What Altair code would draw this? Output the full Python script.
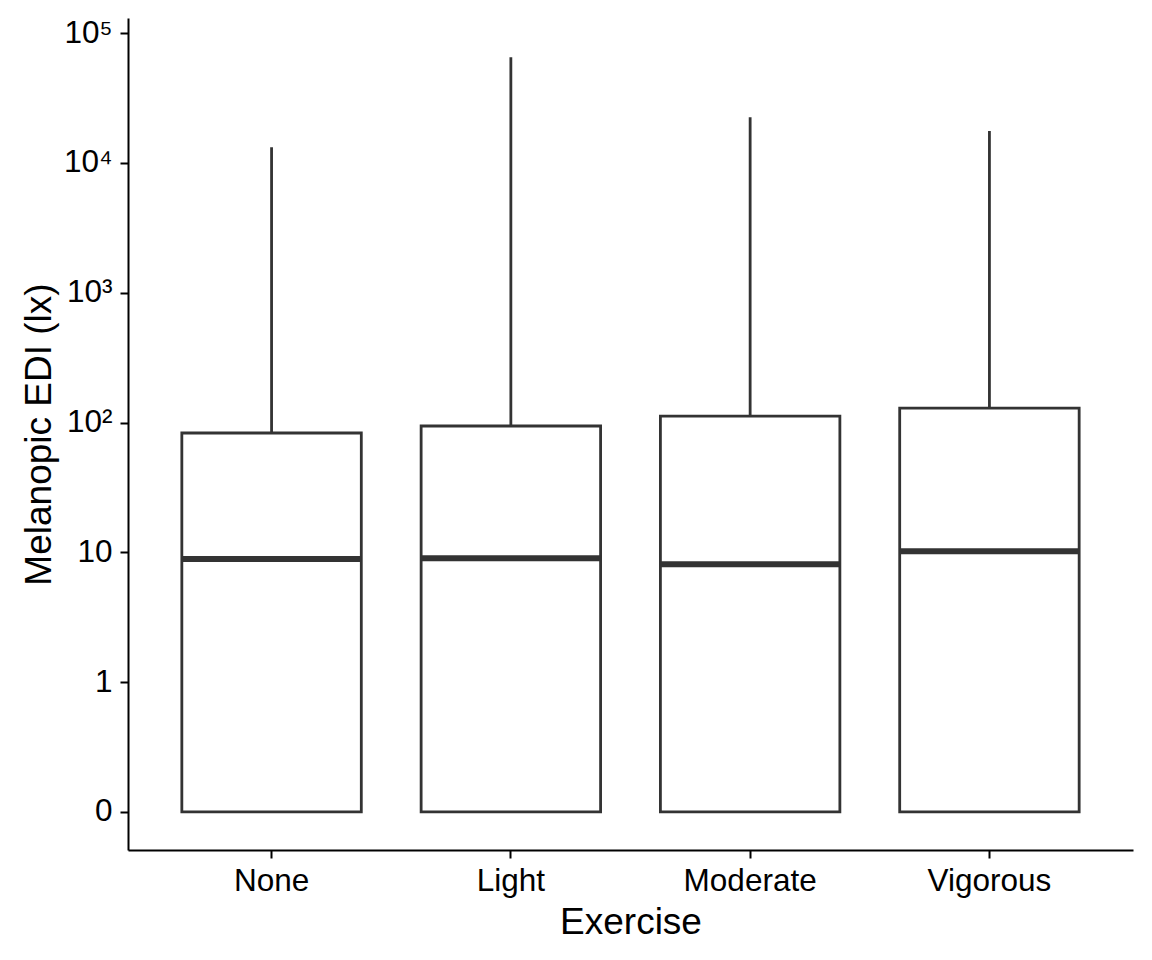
import altair as alt
import pandas as pd

categories = ["None", "Light", "Moderate", "Vigorous"]
q1_vals = [0, 0, 0, 0]
median_vals = [8.9, 9.0, 8.1, 10.2]
q3_vals = [83, 94, 112, 129]
max_vals = [13200, 65000, 22500, 17600]

tick_positions = [0, 1, 2, 3, 4, 5, 6]
tick_labels = ["0", "1", "10", "10²", "10³", "10⁴", "10⁵"]

df = pd.DataFrame({
    "Exercise": categories,
    "q1": q1_vals,
    "median": median_vals,
    "q3": q3_vals,
    "hi": max_vals,
})

def tr(field):
    return f"datum.{field} <= 0 ? 0 : log(datum.{field}) / LN10 + 1"

label_expr = " : ".join(
    f"datum.value == {p} ? '{l}'" for p, l in zip(tick_positions, tick_labels)
) + " : ''"

LINE = "#333333"
FONT = "Liberation Sans"

x_enc = alt.X(
    "Exercise:N",
    sort=categories,
    scale=alt.Scale(paddingInner=0, paddingOuter=0.1),
    axis=alt.Axis(
        title="Exercise", labelAngle=0, labelFontSize=31.5, titleFontSize=37,
        labelPadding=7, titlePadding=8,
    ),
)
y_scale = alt.Scale(domain=[-0.293, 6.116], nice=False, zero=False)
y_axis = alt.Axis(
    title="Melanopic EDI (lx)", values=tick_positions, labelExpr=label_expr,
    labelFontSize=31.5, titleFontSize=37, labelPadding=8, titlePadding=5,
)

base = alt.Chart(df).transform_calculate(
    t_q1=tr("q1"), t_med=tr("median"), t_q3=tr("q3"), t_hi=tr("hi")
)

whisker = base.mark_rule(color=LINE, strokeWidth=2.8, opacity=1).encode(
    x=x_enc,
    y=alt.Y("t_q3:Q", scale=y_scale, axis=y_axis),
    y2="t_hi:Q",
)
box = base.mark_bar(
    fill="white", stroke=LINE, strokeWidth=2.8, opacity=1,
    width=alt.RelativeBandSize(0.75)
).encode(
    x=x_enc,
    y=alt.Y("t_q1:Q", scale=y_scale, axis=y_axis),
    y2="t_q3:Q",
)
median = base.mark_tick(color=LINE, thickness=6, size=179, opacity=1).encode(
    x=x_enc,
    y=alt.Y("t_med:Q", scale=y_scale, axis=y_axis),
)

chart = alt.layer(whisker, box, median).properties(
    width=1005, height=832,
    autosize=alt.AutoSizeParams(type="none"),
    padding={"left": 120, "top": 10, "right": 8, "bottom": 100},
).configure_view(stroke=None).configure_axis(
    grid=False, domainColor="black", domainWidth=2, tickColor="black",
    tickWidth=2, tickSize=8, labelColor="black", titleColor="black",
    labelFont=FONT, titleFont=FONT, titleFontWeight="normal",
)

chart.save("out.html", embed_options={"renderer": "svg", "actions": False})
